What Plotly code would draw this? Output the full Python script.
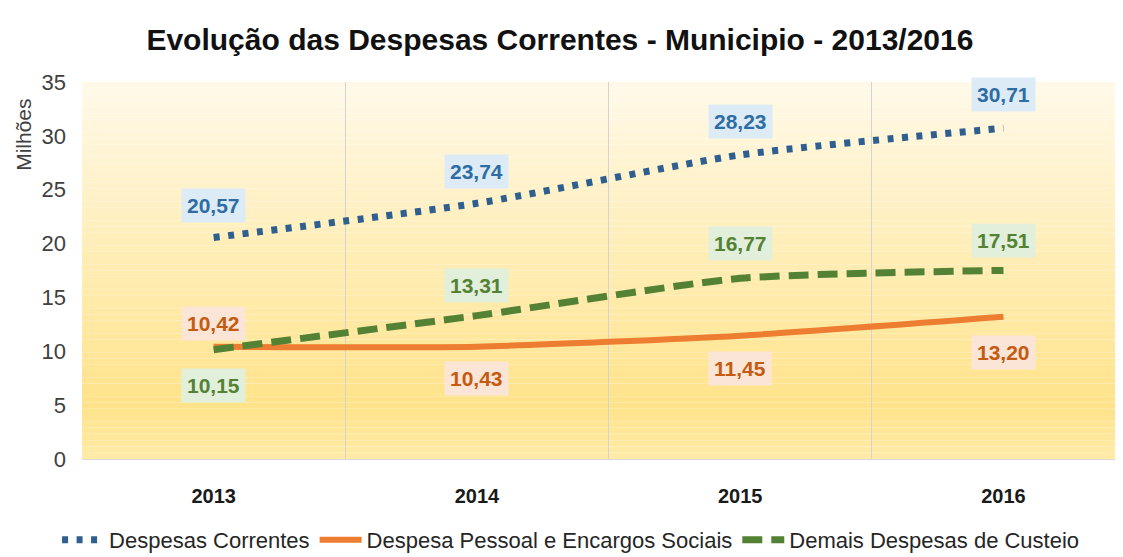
import plotly.graph_objects as go

years = ["2013", "2014", "2015", "2016"]
despesas_correntes = [20.57, 23.74, 28.23, 30.71]
despesa_pessoal = [10.42, 10.43, 11.45, 13.20]
demais_despesas = [10.15, 13.31, 16.77, 17.51]

series_names = ["Despesas Correntes", "Despesa Pessoal e Encargos Sociais", "Demais Despesas de Custeio"]

FONT = "Liberation Sans, Arial, sans-serif"

xs = list(range(len(years)))

fig = go.Figure()
fig.add_trace(go.Scatter(x=xs, y=despesas_correntes, name=series_names[0], mode="lines",
                         line=dict(color="#2F5F8F", width=7, dash="6px,8.5px", shape="spline", smoothing=0.6)))
fig.add_trace(go.Scatter(x=xs, y=despesa_pessoal, name=series_names[1], mode="lines",
                         line=dict(color="#ED7D31", width=6, shape="spline", smoothing=0.6)))
fig.add_trace(go.Scatter(x=xs, y=demais_despesas, name=series_names[2], mode="lines",
                         line=dict(color="#548235", width=7, dash="20px,9px", shape="spline", smoothing=0.6)))

def fmt(v):
    return f"{v:.2f}".replace(".", ",")

styles = [
    (despesas_correntes, "#2E6DA4", "#DDEBF7", [32, 32, 33, 34]),
    (despesa_pessoal, "#C55A11", "#FBE5D6", [23, -32, -33, -36]),
    (demais_despesas, "#548235", "#E2EFDA", [-36, 30, 35, 30]),
]
annotations = []
for vals, fc, bg, shifts in styles:
    for i, v in enumerate(vals):
        annotations.append(dict(x=i, y=v, xref="x", yref="y", text=f"<b>{fmt(v)}</b>", showarrow=False,
                                yshift=shifts[i], font=dict(family=FONT, size=21, color=fc),
                                bgcolor=bg, borderpad=5))
annotations.append(dict(text="Milhões", x=-0.057, y=0.859, xref="paper", yref="paper", showarrow=False,
                        textangle=-90, xanchor="center", yanchor="middle",
                        font=dict(family=FONT, size=21, color="#404040")))

# vertical gradient in plot area
def lerp(a, b, t):
    return tuple(round(a[k] + (b[k] - a[k]) * t) for k in range(3))

top = (255, 249, 232)
mid = (255, 227, 138)
bot = (255, 236, 170)
shapes = []
n = 60
for i in range(n):
    f = i / n
    if f < 0.85:
        c = lerp(top, mid, f / 0.85)
    else:
        c = lerp(mid, bot, (f - 0.85) / 0.15)
    shapes.append(dict(type="rect", xref="paper", yref="paper", x0=0, x1=1,
                       y0=1 - (i + 1) / n, y1=1 - f,
                       fillcolor=f"rgb{c}", line=dict(width=0), layer="below"))

# page body has an 8px margin, so the figure is sized to the remaining area
fig.update_layout(
    width=1115, height=549,
    margin=dict(l=74, r=0, t=74, b=98, autoexpand=False),
    paper_bgcolor="white", plot_bgcolor="rgba(0,0,0,0)",
    title=dict(text="<b>Evolução das Despesas Correntes - Municipio - 2013/2016</b>",
               x=0.495, xref="container", xanchor="center", y=0.942, yanchor="middle",
               font=dict(family=FONT, size=30, color="#111111")),
    shapes=shapes,
    annotations=annotations,
    showlegend=True,
    legend=dict(orientation="h", x=0.505, xref="container", xanchor="center", y=-0.215, yanchor="middle",
                font=dict(family=FONT, size=22, color="#262626"),
                bgcolor="rgba(0,0,0,0)", itemwidth=42, tracegroupgap=0),
    xaxis=dict(range=[-0.5, 3.454], tickvals=xs, ticktext=[f"<b>{y}</b>" for y in years],
               showgrid=False, zeroline=False, showline=True, linecolor="#D9D9D9", linewidth=1,
               tickfont=dict(family=FONT, size=20, color="#1a1a1a"), ticks="", ticklabelstandoff=19,
               minor=dict(tickvals=[0.5, 1.5, 2.5], showgrid=True, gridcolor="#D3D3D3", gridwidth=1, ticks=""),
               fixedrange=True),
    yaxis=dict(range=[0, 35], tickvals=[0, 5, 10, 15, 20, 25, 30, 35], showgrid=False, zeroline=False,
               showline=False, tickfont=dict(family=FONT, size=22, color="#404040"),
               ticks="", ticklabelstandoff=15, fixedrange=True),
)

fig.write_html("out.html")
